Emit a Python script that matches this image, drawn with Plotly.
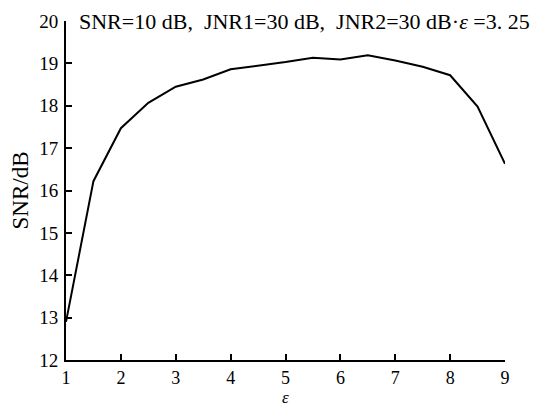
import plotly.graph_objects as go

eps = [1, 1.5, 2, 2.5, 3, 3.5, 4, 4.5, 5, 5.5, 6, 6.5, 7, 7.5, 8, 8.5, 9]
snr = [12.9, 16.22, 17.47, 18.07, 18.45, 18.62, 18.86, 18.94, 19.03, 19.13, 19.09, 19.19, 19.07, 18.92, 18.72, 17.98, 16.63]
xticks = [1, 2, 3, 4, 5, 6, 7, 8, 9]
yticks = [12, 13, 14, 15, 16, 17, 18, 19, 20]
title_text = "SNR=10 dB,\u00a0 JNR1=30 dB,\u00a0 JNR2=30 dB·<i>ε</i> =3.\u00a025"

font = "Liberation Serif, Times New Roman, serif"

fig = go.Figure()
fig.add_trace(go.Scatter(x=eps, y=snr, mode="lines",
                         line=dict(color="black", width=2), showlegend=False))

fig.update_layout(
    width=540, height=408,
    margin=dict(l=66, r=35, t=21, b=48, autoexpand=False),
    paper_bgcolor="white", plot_bgcolor="white",
    font=dict(family=font, size=19, color="black"),
    xaxis=dict(range=[1, 9], tickvals=xticks, ticks="inside", ticklen=6,
               tickwidth=2, tickcolor="black", showline=True, linecolor="black",
               linewidth=2, showgrid=False, zeroline=False, automargin=False,
               ticklabelstandoff=0,
               tickfont=dict(size=18)),
    yaxis=dict(range=[12, 20], tickvals=yticks, ticks="inside", ticklen=6,
               tickwidth=2, tickcolor="black", showline=True, linecolor="black",
               linewidth=2, showgrid=False, zeroline=False, automargin=False,
               ticklabelstandoff=2,
               title=dict(text="SNR/dB", standoff=4, font=dict(size=23)),
               tickfont=dict(size=19)),
    annotations=[
        dict(text=title_text, xref="paper", yref="paper",
             x=0.025, y=1.0, xanchor="left", yanchor="middle",
             showarrow=False, font=dict(size=22, family=font)),
        dict(text="<i>ε</i>", xref="paper", yref="paper",
             x=0.5, y=-48 / 339, xanchor="center", yanchor="bottom",
             borderpad=0, showarrow=False, font=dict(size=17, family=font)),
    ],
)

fig.write_html("out.html")
